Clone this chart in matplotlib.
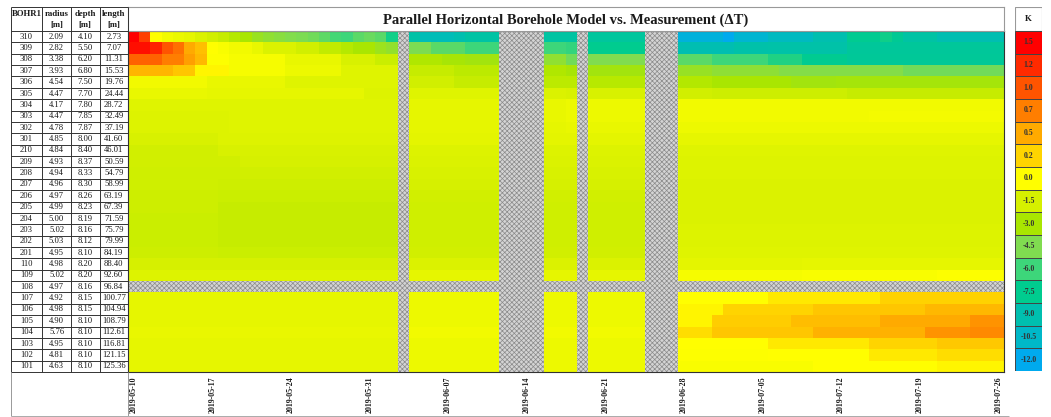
import numpy as np
import pandas as pd
import matplotlib
matplotlib.use('Agg')
import matplotlib.pyplot as plt
from matplotlib.colors import LinearSegmentedColormap, FuncNorm
from matplotlib.patches import Rectangle

plt.rcParams['font.family'] = ['Liberation Serif', 'DejaVu Serif']
plt.rcParams['hatch.linewidth'] = 0.5

# borehole table
bohr = [310, 309, 308, 307, 306, 305, 304, 303, 302, 301,
        210, 209, 208, 207, 206, 205, 204, 203, 202, 201,
        110, 109, 108, 107, 106, 105, 104, 103, 102, 101]
radius = [2.09, 2.82, 3.38, 3.93, 4.54, 4.47, 4.17, 4.47, 4.78, 4.85,
          4.84, 4.93, 4.94, 4.96, 4.97, 4.99, 5.00, 5.02, 5.03, 4.95,
          4.98, 5.02, 4.97, 4.92, 4.98, 4.90, 5.76, 4.95, 4.81, 4.63]
depth = [4.10, 5.50, 6.20, 6.80, 7.50, 7.70, 7.80, 7.85, 7.87, 8.00,
         8.40, 8.37, 8.33, 8.30, 8.26, 8.23, 8.19, 8.16, 8.12, 8.10,
         8.20, 8.20, 8.16, 8.15, 8.15, 8.10, 8.10, 8.10, 8.10, 8.10]
length = [2.73, 7.07, 11.31, 15.53, 19.76, 24.44, 28.72, 32.49, 37.19, 41.60,
          46.01, 50.59, 54.79, 58.99, 63.19, 67.39, 71.59, 75.79, 79.99, 84.19,
          88.40, 92.60, 96.84, 100.77, 104.94, 108.79, 112.61, 116.81, 121.15, 125.36]

dates = pd.date_range('2019-05-10', '2019-07-26', freq='D')
missing_days = ['2019-06-03', '2019-06-12', '2019-06-13', '2019-06-14', '2019-06-15',
                '2019-06-19', '2019-06-25', '2019-06-26', '2019-06-27']
missing_bohr = [108]

level_values = [1.5, 1.2, 1.0, 0.7, 0.5, 0.2, 0.0, -1.5, -3.0, -4.5, -6.0, -7.5, -9.0, -10.5, -12.0]
level_colors = ['#ff0000', '#ff2a00', '#ff5500', '#ff7f00', '#ffaa00', '#ffd400', '#ffff00',
                '#d5f000', '#aae600', '#80dc50', '#3cd67a', '#00cc8e', '#00bfae', '#00b8c8', '#00aaee']

# dT steps per borehole: (day index where value starts, dT in K)
dT_steps = [
    [(0, 1.5), (1, 1.1), (2, 0.0), (3, -0.5), (4, -0.7), (5, -0.9), (6, -1.3), (7, -1.6), (8, -2.0),
     (9, -2.6), (10, -3.0), (11, -3.6), (12, -3.9), (13, -4.2), (14, -4.4), (15, -4.6), (16, -4.8),
     (17, -5.2), (18, -5.8), (19, -6.0), (20, -5.3), (21, -5.0), (22, -5.3), (23, -7.0), (25, -8.6),
     (26, -9.5), (29, -9.0), (30, -8.5), (37, -8.4), (41, -8.2), (49, -11.2), (53, -12.0), (54, -10.8),
     (57, -10.0), (61, -9.0), (64, -7.6), (67, -7.1), (68, -7.8), (69, -8.5), (72, -9.2)],
    [(0, 1.4), (2, 1.25), (3, 1.0), (4, 0.8), (5, 0.5), (6, 0.35), (7, 0.0), (8, -0.2), (9, -0.5),
     (11, -0.8), (12, -1.3), (15, -1.6), (17, -2.2), (19, -2.6), (20, -3.0), (22, -3.5), (23, -3.8),
     (25, -4.6), (27, -5.3), (30, -6.0), (39, -6.2), (41, -7.5), (49, -9.2), (54, -8.8), (57, -8.7),
     (64, -8.0)],
    [(0, 0.9), (3, 0.7), (5, 0.55), (6, 0.4), (7, -0.05), (9, -0.3), (14, -0.8), (19, -1.4), (22, -1.9),
     (25, -2.8), (28, -3.1), (30, -3.3), (37, -3.9), (39, -4.8), (41, -4.5), (49, -5.3), (52, -6.0),
     (57, -6.7), (60, -7.6), (64, -7.9)],
    [(0, 0.42), (4, 0.3), (6, 0.05), (9, -0.3), (14, -0.6), (19, -1.1), (25, -2.0), (29, -2.4),
     (37, -2.8), (39, -3.1), (41, -3.3), (49, -3.7), (52, -4.0), (58, -4.3), (69, -4.8)],
    [(0, -0.5), (7, -0.8), (14, -1.1), (25, -1.6), (29, -2.0), (37, -2.4), (41, -2.5), (49, -2.7),
     (52, -3.0), (59, -3.3), (63, -3.2)],
    [(0, -0.8), (7, -0.9), (21, -1.2), (25, -1.1), (37, -1.3), (39, -1.4), (49, -1.6), (52, -1.8),
     (64, -2.0)],
    [(0, -1.1), (25, -0.9), (37, -0.8), (39, -0.65), (49, -0.5)],
    [(0, -1.2), (9, -1.1), (25, -0.9), (37, -0.8), (39, -0.65), (49, -0.5), (66, -0.4)],
    [(0, -1.2), (9, -1.1), (25, -0.9), (37, -0.85), (39, -0.8), (49, -0.6)],
    [(0, -1.4), (8, -1.2), (25, -1.0), (49, -0.9)],
    [(0, -1.6), (8, -1.4), (25, -1.2), (49, -1.1)],
    [(0, -1.6), (10, -1.5), (25, -1.3), (49, -1.2)],
    [(0, -1.7), (10, -1.6), (25, -1.4), (49, -1.2)],
    [(0, -1.7), (8, -1.8), (25, -1.5), (49, -1.3)],
    [(0, -1.8), (8, -1.9), (25, -1.6), (49, -1.3)],
    [(0, -1.8), (8, -2.0), (25, -1.7), (49, -1.3)],
    [(0, -1.9), (8, -2.0), (25, -1.7), (49, -1.3)],
    [(0, -1.9), (8, -2.0), (25, -1.7), (49, -1.2)],
    [(0, -1.9), (8, -2.0), (25, -1.7), (49, -1.2)],
    [(0, -1.8), (8, -1.9), (25, -1.6), (49, -1.1)],
    [(0, -1.5), (25, -1.3), (49, -1.0), (60, -0.9)],
    [(0, -1.2), (25, -0.9), (49, -0.3), (60, -0.2), (72, -0.1)],
    [],
    [(0, -0.9), (25, -0.6), (49, 0.0), (57, 0.1), (67, 0.22)],
    [(0, -0.9), (25, -0.6), (49, 0.05), (53, 0.2), (61, 0.3), (71, 0.4)],
    [(0, -0.9), (25, -0.6), (49, 0.05), (52, 0.25), (59, 0.37), (67, 0.5), (75, 0.6)],
    [(0, -0.8), (25, -0.5), (49, 0.15), (52, 0.3), (61, 0.45), (71, 0.6), (75, 0.65)],
    [(0, -0.9), (25, -0.6), (49, 0.0), (57, 0.1), (66, 0.2), (72, 0.28)],
    [(0, -0.9), (25, -0.6), (49, -0.1), (57, 0.0), (66, 0.1), (72, 0.15)],
    [(0, -0.9), (25, -0.6), (49, -0.2), (61, 0.0), (72, 0.05)],
]


def steps_to_row(steps, n):
    row = np.full(n, np.nan)
    ends = [s for s, _ in steps[1:]] + [n]
    for (s, v), e in zip(steps, ends):
        row[s:e] = v
    return row


n_days = len(dates)
dT = np.array([steps_to_row(s, n_days) for s in dT_steps])
day_str = dates.strftime('%Y-%m-%d')
dT[:, np.isin(day_str, missing_days)] = np.nan
dT[np.isin(bohr, missing_bohr), :] = np.nan
dT = np.ma.masked_invalid(dT)

# nonlinear scale: each level of the legend gets the same share of the colour map
lv = level_values[::-1]
idx = np.arange(len(lv))
norm = FuncNorm((lambda v: np.interp(v, lv, idx), lambda p: np.interp(p, idx, lv)),
                vmin=lv[0], vmax=lv[-1])
cmap = LinearSegmentedColormap.from_list('dT', level_colors[::-1])

W, H = 1051, 417
fig = plt.figure(figsize=(W / 100, H / 100), dpi=100)


def px_axes(x0, y0, x1, y1):
    return fig.add_axes([x0 / W, 1 - y1 / H, (x1 - x0) / W, (y1 - y0) / H])


line_col = '#333333'
txt_col = '#1a1a1a'

# heat map
ax = px_axes(128, 31, 1004, 372)
ax.add_patch(Rectangle((0, 0), n_days, len(bohr), facecolor='#d4d4d4', edgecolor='#8a8a8a',
                       hatch='xxxxxxx', linewidth=0, zorder=0))
ax.pcolormesh(np.arange(n_days + 1), np.arange(len(bohr) + 1), dT, cmap=cmap, norm=norm, zorder=1)
ax.set_xlim(0, n_days)
ax.set_ylim(len(bohr), 0)
ax.set_yticks([])
weekly = np.arange(0, n_days, 7)
ax.set_xticks(weekly + 0.5)
ax.set_xticklabels(day_str[weekly], rotation=90, fontsize=5.7, fontweight='bold', color=txt_col)
ax.tick_params(axis='x', length=0, pad=3)
for s in ax.spines.values():
    s.set_linewidth(0.8)
    s.set_color(line_col)

# title box
tax = px_axes(128, 7, 1004, 31)
tax.set_xticks([])
tax.set_yticks([])
for s in tax.spines.values():
    s.set_color('#999999')
    s.set_linewidth(0.8)
tax.text(0.5, 0.45, 'Parallel Horizontal Borehole Model vs. Measurement (\u0394T)',
         ha='center', va='center', fontsize=10.5, fontweight='bold', color=txt_col,
         transform=tax.transAxes)

# borehole table
bx = px_axes(11, 7, 1010, 417)
bx.set_xlim(11, 1010)
bx.set_ylim(417, 7)
bx.axis('off')
col_edges = [11, 42, 71, 99.5, 128]
row_h = (372 - 31) / len(bohr)
row_edges = 31 + row_h * np.arange(len(bohr) + 1)
bx.hlines([7], 11, 128, color=line_col, lw=0.7)
bx.hlines(row_edges, 11, 128, color=line_col, lw=0.7)
bx.vlines(col_edges, 7, 372, color=line_col, lw=0.7)
bx.vlines([11], 372, 416, color='#999999', lw=0.7)
bx.vlines([128], 372, 416, color='#999999', lw=0.7)
bx.hlines([416], 11, 1009, color='#aaaaaa', lw=0.7)
centers = [(col_edges[i] + col_edges[i + 1]) / 2 for i in range(4)]
for c, name in zip(centers, ['BOHR1', 'radius', 'depth', 'length']):
    bx.text(c, 14, name, ha='center', va='center', fontsize=6.3, fontweight='bold', color=txt_col)
for c in centers[1:]:
    bx.text(c, 25, '[m]', ha='center', va='center', fontsize=6.3, fontweight='bold', color=txt_col)
for i in range(len(bohr)):
    y = row_edges[i] + row_h / 2
    vals = [str(bohr[i]), f'{radius[i]:.2f}', f'{depth[i]:.2f}', f'{length[i]:.2f}']
    for c, v in zip(centers, vals):
        bx.text(c, y, v, ha='center', va='center', fontsize=6.2, color=txt_col)

# legend boxes
cx = px_axes(1015, 7, 1042, 371)
cx.set_xlim(0, 1)
cx.set_ylim(371, 7)
cx.axis('off')
cx.add_patch(Rectangle((0, 7), 1, 24, facecolor='white', edgecolor='#999999', lw=0.8))
cx.text(0.5, 19, 'K', ha='center', va='center', fontsize=6.3, fontweight='bold', color=txt_col)
box_h = (371 - 31) / len(level_values)
for k, v in enumerate(level_values):
    y0 = 31 + k * box_h
    cx.add_patch(Rectangle((0, y0), 1, box_h, facecolor=cmap(norm(v)), edgecolor='#444444', lw=0.7))
    cx.text(0.5, y0 + box_h / 2, f'{v:.1f}', ha='center', va='center', fontsize=5.6,
            fontweight='bold', color='#333333')

fig.savefig('out.png', dpi=100)
